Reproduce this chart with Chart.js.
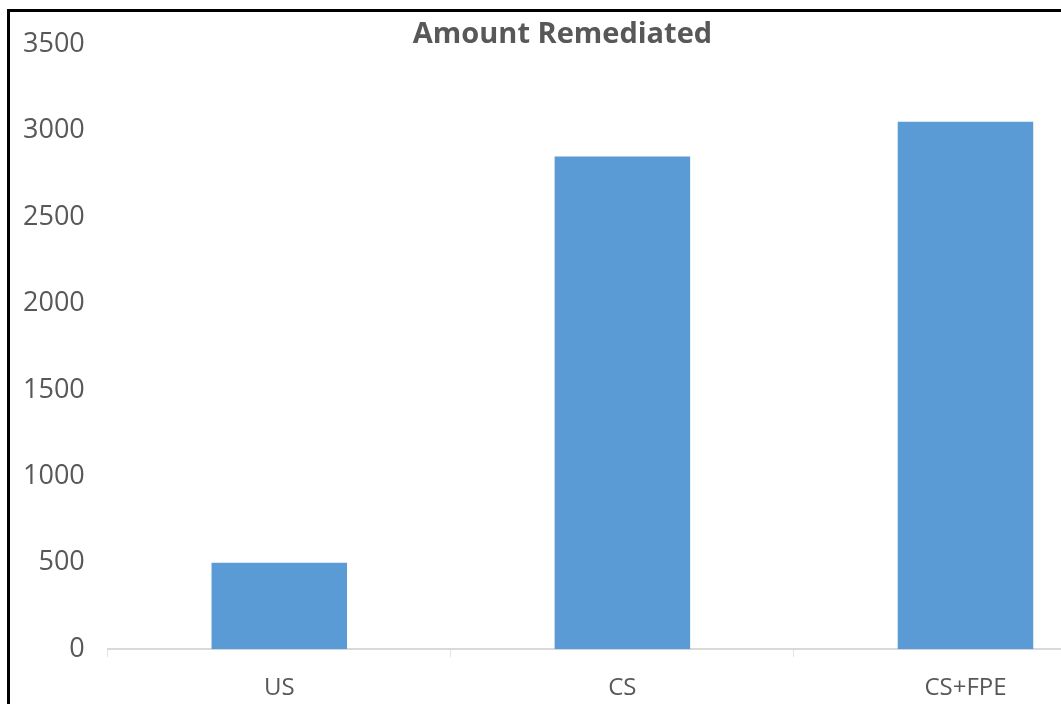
<!DOCTYPE html>
<html>
<head>
<meta charset="utf-8">
<script src="https://cdn.jsdelivr.net/npm/chart.js@4/dist/chart.umd.min.js"></script>
<style>
  html, body { margin: 0; padding: 0; background: #fff; overflow: hidden; }
  body { width: 1061px; height: 704px; position: relative; }
  .frame {
    position: absolute; left: 7px; top: 9px; width: 1140px; height: 720px;
    border-left: 3px solid #000; border-top: 3px solid #000;
  }
  .wrap { position: absolute; left: 0; top: 0; width: 1127px; height: 708px; }
</style>
</head>
<body>
<div class="frame">
  <div class="wrap"><canvas id="chart"></canvas></div>
</div>
<script>
// chart data
const chartTitle = 'Amount Remediated';
const categories = ['US', 'CS', 'CS+FPE'];
const amounts = [500, 2850, 3050];
const yTicks = [0, 500, 1000, 1500, 2000, 2500, 3000, 3500];

const textGray = '#585858';
const fontFamily = "'Open Sans', 'Liberation Sans', sans-serif";

// title drawn over the plot, like the spreadsheet chart it copies
const overlayTitle = {
    id: 'overlayTitle',
    afterDraw(chart) {
        const ctx = chart.ctx;
        ctx.save();
        ctx.font = 'bold 29px ' + fontFamily;
        ctx.fillStyle = textGray;
        ctx.textAlign = 'center';
        ctx.textBaseline = 'middle';
        ctx.fillText(chartTitle, chart.width / 2 - 11, 23);
        ctx.restore();
    }
};

const ctx = document.getElementById('chart').getContext('2d');
new Chart(ctx, {
    type: 'bar',
    data: {
        labels: categories,
        datasets: [{
            label: chartTitle,
            data: amounts,
            backgroundColor: '#5B9BD5',
            borderWidth: 0,
            categoryPercentage: 1,
            barPercentage: 0.395
        }]
    },
    options: {
        responsive: true,
        maintainAspectRatio: false,
        animation: false,
        layout: { padding: { left: 13, right: 0, top: 32, bottom: 0 } },
        scales: {
            x: {
                grid: { display: true, drawOnChartArea: false, color: '#e4e4e4', tickLength: 8, offset: true },
                border: { display: true, color: '#d9d9d9', width: 2 },
                ticks: { color: textGray, padding: 17, font: { family: fontFamily, size: 24 } }
            },
            y: {
                min: 0,
                max: 3500,
                afterBuildTicks(scale) { scale.ticks = yTicks.map(v => ({ value: v })); },
                // hidden grid, tick length only used as the gap between labels and plot
                grid: { display: false, drawTicks: true, tickLength: 23 },
                border: { display: false },
                ticks: {
                    color: textGray,
                    padding: 0,
                    font: { family: fontFamily, size: 27 },
                    callback: v => String(v)
                }
            }
        },
        plugins: {
            legend: { display: false },
            tooltip: { enabled: false },
            title: { display: false }
        }
    },
    plugins: [overlayTitle]
});
</script>
</body>
</html>
